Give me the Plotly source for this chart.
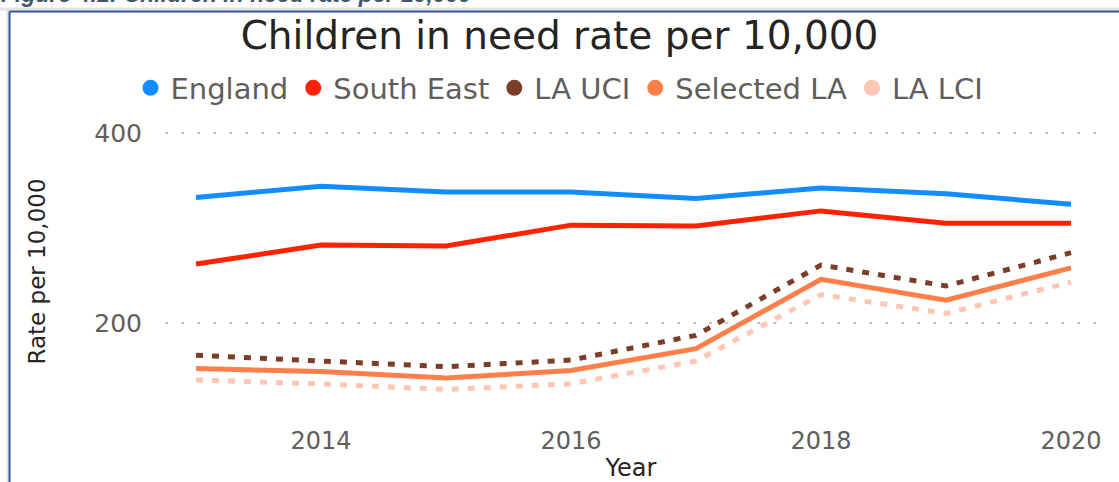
import plotly.graph_objects as go

# Children in need rate per 10,000 children, 2013-2020
years = [2013, 2014, 2015, 2016, 2017, 2018, 2019, 2020]
england = [332, 344, 338, 338, 331, 342, 336, 325]
south_east = [262, 282, 281, 303, 302, 318, 305, 305]
la_uci = [166, 160, 154, 161, 187, 261, 239, 274]
selected_la = [152, 149, 142, 150, 173, 246, 224, 258]
la_lci = [140, 136, 130, 136, 160, 230, 210, 243]

x_ticks = [2014, 2016, 2018, 2020]
y_ticks = [200, 400]

series = [
    ("England", england, "#118DFF", "solid"),
    ("South East", south_east, "#FF2200", "solid"),
    ("LA UCI", la_uci, "#7A3E28", "7px,9px"),
    ("Selected LA", selected_la, "#FF7F4A", "solid"),
    ("LA LCI", la_lci, "#FFC7B3", "7px,9px"),
]

W, H = 1119, 482
L, R, T, B = 165, 22, 125, 64
PW, PH = W - L - R, H - T - B


def px_x(px):
    return (px - L) / PW


def px_y(py):
    return 1 - (py - T) / PH


FONT = "DejaVu Sans"
fig = go.Figure()

# data lines (legend handled by marker-only entries below)
for name, vals, color, dash in series:
    fig.add_trace(go.Scatter(
        x=years, y=vals, mode="lines", name=name, showlegend=False,
        line=dict(color=color, width=5, dash=dash),
        hovertemplate="%{x}: %{y}<extra>" + name + "</extra>",
    ))

# circular legend symbols
for name, vals, color, dash in series:
    fig.add_trace(go.Scatter(
        x=[None], y=[None], mode="markers", name=name,
        marker=dict(color=color, size=16, symbol="circle"),
    ))

# report frame: grey shadow plus blue border along the top and left
frame = [
    dict(x0=0, y0=9, x1=W, y1=9, color="#E3E3E3", width=3),
    dict(x0=7.5, y0=9, x1=7.5, y1=H, color="#E3E3E3", width=2),
    dict(x0=9.5, y0=11.5, x1=W, y1=11.5, color="#2F5597", width=2),
    dict(x0=9.5, y0=11.5, x1=9.5, y1=H, color="#2F5597", width=2),
]
shapes = [
    dict(type="line", xref="paper", yref="paper",
         x0=px_x(f["x0"]), x1=px_x(f["x1"]), y0=px_y(f["y0"]), y1=px_y(f["y1"]),
         line=dict(color=f["color"], width=f["width"]), layer="above")
    for f in frame
]

fig.update_layout(
    width=W, height=H,
    margin=dict(l=L, r=R, t=T, b=B, autoexpand=False),
    paper_bgcolor="white", plot_bgcolor="white",
    font=dict(family=FONT, color="#605E5C"),
    title=dict(
        text="Children in need rate per 10,000",
        x=0.5, xref="container", xanchor="center",
        y=1 - 35 / H, yref="container", yanchor="middle",
        font=dict(family=FONT, size=39, color="#252423"),
    ),
    legend=dict(
        orientation="h", xref="container", yref="container",
        x=0.5, xanchor="center", y=1 - 88 / H, yanchor="middle",
        font=dict(family=FONT, size=29, color="#605E5C"),
        itemwidth=30, traceorder="normal", bgcolor="rgba(0,0,0,0)",
    ),
    shapes=shapes,
    annotations=[dict(
        text="<b><i>Figure 4.1: Children in need rate per 10,000</i></b>",
        xref="paper", yref="paper", x=px_x(-1), y=px_y(-6),
        xanchor="left", yanchor="middle", showarrow=False,
        font=dict(family="Liberation Sans", size=23, color="#44546A"),
    )],
    showlegend=True,
)

fig.update_xaxes(
    range=[2012.752, 2020.208], tickvals=x_ticks, automargin=False,
    showgrid=False, zeroline=False, showline=False, ticks="",
    tickfont=dict(family=FONT, size=24, color="#605E5C"),
    ticklabelstandoff=6,
    title=dict(text="Year", standoff=13,
               font=dict(family=FONT, size=24, color="#252423")),
)
fig.update_yaxes(
    range=[100, 408.4], tickvals=y_ticks, automargin=False,
    showgrid=True, gridcolor="#C8C6C4", gridwidth=1.5, griddash="3px,13px",
    zeroline=False, showline=False, ticks="",
    tickfont=dict(family=FONT, size=25, color="#605E5C"),
    ticklabelstandoff=22,
    title=dict(text="Rate per 10,000", standoff=42,
               font=dict(family=FONT, size=23, color="#252423")),
)

fig.write_html("out.html")
